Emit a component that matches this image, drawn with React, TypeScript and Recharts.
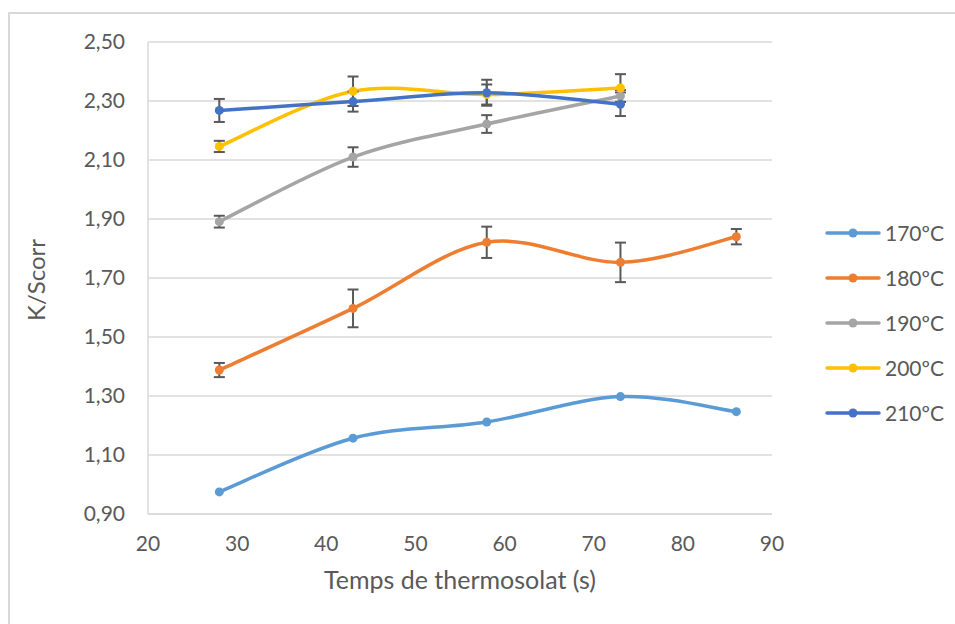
import { LineChart, Line, XAxis, YAxis, CartesianGrid, ErrorBar, Label } from "recharts"

const times = [28, 43, 58, 73, 86]
const xTicks = [20, 30, 40, 50, 60, 70, 80, 90]
const yTicks = [0.9, 1.1, 1.3, 1.5, 1.7, 1.9, 2.1, 2.3, 2.5]

const k170 = [0.975, 1.157, 1.212, 1.298, 1.247]
const k180 = [1.388, 1.597, 1.821, 1.753, 1.84]
const err180 = [0.024, 0.064, 0.053, 0.067, 0.026]
const k190 = [1.891, 2.11, 2.222, 2.317]
const err190 = [0.02, 0.033, 0.03, 0.02]
const k200 = [2.146, 2.333, 2.322, 2.344]
const err200 = [0.019, 0.05, 0.034, 0.047]
const k210 = [2.268, 2.298, 2.328, 2.289]
const err210 = [0.039, 0.034, 0.044, 0.04]

const FONT = "Lato, 'Noto Sans', sans-serif"
const TEXT = "#595959"

const build = (vals: number[], errs?: number[]) =>
  vals.map((k, i) => ({ x: times[i], k, err: errs ? errs[i] : 0 }))

const series = [
  { name: "170ºC", color: "#5B9BD5", data: build(k170), hasErr: false },
  { name: "180ºC", color: "#ED7D31", data: build(k180, err180), hasErr: true },
  { name: "190ºC", color: "#A5A5A5", data: build(k190, err190), hasErr: true },
  { name: "200ºC", color: "#FFC000", data: build(k200, err200), hasErr: true },
  { name: "210ºC", color: "#4472C4", data: build(k210, err210), hasErr: true },
]

// excel-like smoothed line (catmull-rom through the points)
function excelSmooth(context: any) {
  let pts: number[][] = []
  return {
    areaStart() {},
    areaEnd() {},
    lineStart() {
      pts = []
    },
    lineEnd() {
      if (!pts.length) return
      context.moveTo(pts[0][0], pts[0][1])
      for (let i = 0; i < pts.length - 1; i++) {
        const p0 = pts[i - 1] || pts[i]
        const p1 = pts[i]
        const p2 = pts[i + 1]
        const p3 = pts[i + 2] || p2
        context.bezierCurveTo(
          p1[0] + (p2[0] - p0[0]) / 6,
          p1[1] + (p2[1] - p0[1]) / 6,
          p2[0] - (p3[0] - p1[0]) / 6,
          p2[1] - (p3[1] - p1[1]) / 6,
          p2[0],
          p2[1]
        )
      }
    },
    point(x: number, y: number) {
      pts.push([+x, +y])
    },
  }
}

export default function App() {
  return (
    <div style={{ position: "absolute", left: 0, top: 0, width: 955, height: 624, background: "#fff", overflow: "hidden", fontFamily: FONT }}>
      {/* chart frame, only top & left edges are visible in the crop */}
      <div style={{ position: "absolute", left: 8, top: 12, width: 1000, height: 700, border: "2px solid #d9d9d9" }} />
      <LineChart width={955} height={624} margin={{ top: 42, right: 183, left: 0, bottom: 20 }} style={{ position: "absolute", left: 0, top: 0 }}>
        <CartesianGrid vertical={false} stroke="#d9d9d9" strokeWidth={1.5} />
        <XAxis
          type="number"
          dataKey="x"
          domain={[20, 90]}
          ticks={xTicks}
          allowDataOverflow
          height={90}
          tickLine={false}
          tickSize={0}
          tickMargin={22}
          stroke="#d9d9d9"
          strokeWidth={1.5}
          tick={{ fill: TEXT, fontSize: 21, fontFamily: FONT }}
        >
          <Label
            content={({ viewBox }: any) => (
              <text x={viewBox.x + viewBox.width / 2} y={viewBox.y + 75} textAnchor="middle" fill={TEXT} fontSize={25} fontFamily={FONT}>
                Temps de thermosolat (s)
              </text>
            )}
          />
        </XAxis>
        <YAxis
          type="number"
          dataKey="k"
          domain={[0.9, 2.5]}
          ticks={yTicks}
          allowDataOverflow
          width={148}
          tickLine={false}
          tickSize={0}
          tickMargin={23}
          stroke="#d9d9d9"
          strokeWidth={1.5}
          tickFormatter={(v: number) => v.toFixed(2).replace(".", ",")}
          tick={{ fill: TEXT, fontSize: 21, fontFamily: FONT }}
        >
          <Label
            content={({ viewBox }: any) => {
              const cx = 35
              const cy = viewBox.y + viewBox.height / 2 + 2
              return (
                <text x={cx} y={cy} transform={`rotate(-90 ${cx} ${cy})`} textAnchor="middle" dominantBaseline="central" fill={TEXT} fontSize={24} fontFamily={FONT}>
                  K/Scorr
                </text>
              )
            }}
          />
        </YAxis>
        {series.map((s) => (
          <Line
            key={s.name}
            name={s.name}
            data={s.data}
            dataKey="k"
            type={excelSmooth as any}
            stroke={s.color}
            strokeWidth={3.5}
            strokeLinecap="round"
            dot={{ r: 4.5, fill: s.color, stroke: s.color, strokeWidth: 0 }}
            activeDot={false}
            isAnimationActive={false}
          >
            {s.hasErr && <ErrorBar dataKey="err" direction="y" width={5.5} stroke="#595959" strokeWidth={2} isAnimationActive={false} />}
          </Line>
        ))}
      </LineChart>
      {/* legend */}
      <div style={{ position: "absolute", left: 825, top: 210 }}>
        {series.map((s) => (
          <div key={s.name} style={{ display: "flex", alignItems: "center", height: 45 }}>
            <svg width={56} height={12} style={{ marginRight: 4 }}>
              <line x1={2} y1={6} x2={54} y2={6} stroke={s.color} strokeWidth={3.5} strokeLinecap="round" />
              <circle cx={28} cy={6} r={4.5} fill={s.color} />
            </svg>
            <span style={{ color: TEXT, fontSize: 21, fontFamily: FONT, lineHeight: "45px" }}>{s.name}</span>
          </div>
        ))}
      </div>
    </div>
  )
}
